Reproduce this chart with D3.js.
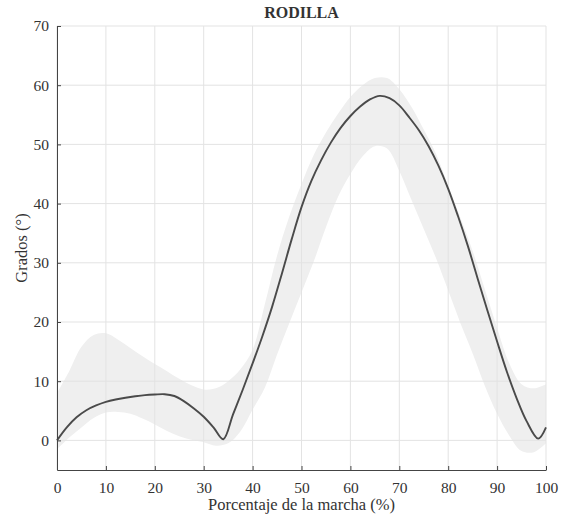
<!DOCTYPE html>
<html>
<head>
<meta charset="utf-8">
<script src="https://cdn.jsdelivr.net/npm/d3@7"></script>
<style>
  body { margin: 0; background: #fff; }
  svg text { font-family: 'Liberation Serif', 'Times New Roman', serif; fill: #333; }
</style>
</head>
<body>
<svg id="chart" width="565" height="516"></svg>
<script>
// mean knee angle over the gait cycle
let meanPct = [0, 2, 4, 6, 8, 10, 12, 14, 16, 18, 20, 22, 24, 26, 28, 30, 32, 34, 36, 38, 40, 42, 44, 46, 48, 50, 52, 54, 56, 58, 60, 62, 64, 66, 68, 70, 72, 74, 76, 78, 80, 82, 84, 86, 88, 90, 92, 94, 96, 98.4, 100];
let meanVal = [0, 2.2, 3.9, 5.1, 5.9, 6.5, 6.9, 7.2, 7.45, 7.65, 7.75, 7.8, 7.5, 6.6, 5.4, 4.0, 2.2, 0.2, 4.4, 8.6, 13, 17.6, 22.6, 28.2, 34, 39.4, 43.8, 47.3, 50.3, 52.8, 54.8, 56.4, 57.6, 58.2, 57.8, 56.6, 54.6, 52.4, 49.7, 46.4, 42.5, 37.9, 32.9, 27.4, 22, 16.7, 11.6, 7.1, 3.3, 0.3, 2.2];

// variability band
let bandPct = [0, 2.5, 5, 7.5, 10, 12.5, 15, 17.5, 20, 22.5, 25, 27.5, 30, 32.5, 35, 37.5, 40, 42.5, 45, 47.5, 50, 52.5, 55, 57.5, 60, 62.5, 65, 67.5, 70, 72.5, 75, 77.5, 80, 82.5, 85, 87.5, 90, 92.5, 95, 97.5, 100];
let upperVal = [8, 11.7, 15.8, 17.8, 18.1, 17, 15.6, 14.2, 12.9, 11.7, 10.4, 9.3, 8.6, 8.8, 10, 12, 15.3, 23, 31.2, 37.8, 43.3, 48.2, 52, 55.2, 58, 60, 61.2, 61.2, 59.3, 56.3, 52.5, 48.4, 43, 37.6, 32, 25.5, 19, 13, 9.5, 8.8, 9.5];
let lowerVal = [-1.5, 0.5, 2.2, 3.8, 4.7, 4.8, 4.5, 3.7, 2.7, 1.6, 0.7, 0.1, -0.3, -0.9, -0.5, 1.5, 5.2, 8.9, 14.5, 19.8, 25, 30.2, 36, 41.2, 45, 48, 49.7, 49.3, 45.5, 40.6, 35.7, 30.8, 25.3, 19.8, 14.7, 9.2, 4.5, 0.8, -1.8, -2, -0.5];

let xTicks = [0, 10, 20, 30, 40, 50, 60, 70, 80, 90, 100];
let yTicks = [0, 10, 20, 30, 40, 50, 60, 70];

let svg = d3.select('#chart');
let plotLeft = 57,
  plotRight = 546,
  plotTop = 26,
  plotBottom = 470;

let xPos = d3.scaleLinear().domain([0, 100]).range([plotLeft, plotRight]);
let yPos = d3.scaleLinear().domain([-5, 70]).range([plotBottom, plotTop]);

let band = bandPct.map((p, i) => ({ p: p, hi: upperVal[i], lo: lowerVal[i] }));
let mean = meanPct.map((p, i) => ({ p: p, v: meanVal[i] }));

// band
svg
  .append('path')
  .datum(band)
  .attr('fill', '#efefef')
  .attr(
    'd',
    d3
      .area()
      .x((d) => xPos(d.p))
      .y0((d) => yPos(d.lo))
      .y1((d) => yPos(d.hi))
      .curve(d3.curveCatmullRom.alpha(0.5))
  );

// grid
svg
  .append('g')
  .selectAll('line')
  .data(xTicks)
  .join('line')
  .attr('x1', (d) => xPos(d))
  .attr('x2', (d) => xPos(d))
  .attr('y1', plotTop)
  .attr('y2', plotBottom)
  .attr('stroke', '#e3e3e3')
  .attr('stroke-width', 1);

svg
  .append('g')
  .selectAll('line')
  .data(yTicks)
  .join('line')
  .attr('x1', plotLeft)
  .attr('x2', plotRight)
  .attr('y1', (d) => yPos(d))
  .attr('y2', (d) => yPos(d))
  .attr('stroke', '#e3e3e3')
  .attr('stroke-width', 1);

// mean curve
svg
  .append('path')
  .datum(mean)
  .attr('fill', 'none')
  .attr('stroke', '#4a4a4a')
  .attr('stroke-width', 1.9)
  .attr('stroke-linejoin', 'round')
  .attr(
    'd',
    d3
      .line()
      .x((d) => xPos(d.p))
      .y((d) => yPos(d.v))
      .curve(d3.curveCatmullRom.alpha(0.5))
  );

// axes, ticks inward
let xAxis = svg
  .append('g')
  .attr('transform', `translate(0,${plotBottom})`)
  .call(d3.axisBottom(xPos).tickValues(xTicks).tickSizeInner(-4).tickSizeOuter(0).tickPadding(12));

let yAxis = svg
  .append('g')
  .attr('transform', `translate(${plotLeft},0)`)
  .call(d3.axisLeft(yPos).tickValues(yTicks).tickSizeInner(-4).tickSizeOuter(0).tickPadding(8));

[xAxis, yAxis].forEach((g) => {
  g.select('.domain').attr('stroke', '#444').attr('stroke-width', 1);
  g.selectAll('.tick line').attr('stroke', '#444');
  g.selectAll('.tick text')
    .attr('font-size', '15.5px')
    .attr('fill', '#333')
    .style('font-family', "'Liberation Serif', 'Times New Roman', serif");
});

svg
  .append('text')
  .attr('x', (plotLeft + plotRight) / 2)
  .attr('y', 18)
  .attr('text-anchor', 'middle')
  .attr('font-size', '16px')
  .attr('font-weight', 'bold')
  .attr('fill', '#111')
  .text('RODILLA');

svg
  .append('text')
  .attr('x', (plotLeft + plotRight) / 2)
  .attr('y', 510)
  .attr('text-anchor', 'middle')
  .attr('font-size', '16.5px')
  .text('Porcentaje de la marcha (%)');

svg
  .append('text')
  .attr('transform', `translate(27,${(plotTop + plotBottom) / 2}) rotate(-90)`)
  .attr('text-anchor', 'middle')
  .attr('font-size', '16.5px')
  .text('Grados (°)');
</script>
</body>
</html>
